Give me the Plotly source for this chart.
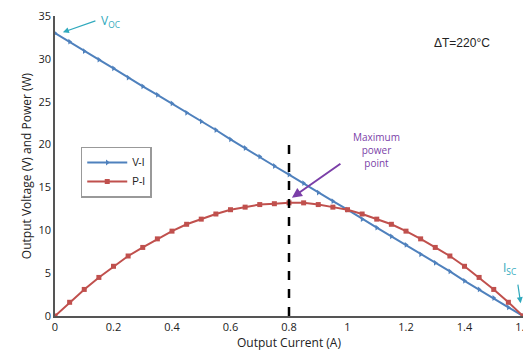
import plotly.graph_objects as go

current = [0, 0.05, 0.1, 0.15, 0.2, 0.25, 0.3, 0.35, 0.4, 0.45, 0.5, 0.55, 0.6, 0.65, 0.7, 0.75,
           0.8, 0.85, 0.9, 0.95, 1.0, 1.05, 1.1, 1.15, 1.2, 1.25, 1.3, 1.35, 1.4, 1.45, 1.5, 1.55, 1.6]
voltage = [33.0, 32.0, 30.9, 29.9, 28.9, 27.8, 26.8, 25.8, 24.8, 23.7, 22.7, 21.7, 20.6, 19.6, 18.6, 17.5,
           16.5, 15.5, 14.4, 13.4, 12.4, 11.3, 10.3, 9.3, 8.3, 7.2, 6.2, 5.2, 4.1, 3.1, 2.1, 1.0, 0.0]
power = [0.0, 1.6, 3.1, 4.5, 5.8, 7.0, 8.0, 9.0, 9.9, 10.7, 11.3, 11.9, 12.4, 12.7, 13.0, 13.1,
         13.2, 13.2, 13.0, 12.7, 12.4, 11.9, 11.3, 10.7, 9.9, 9.0, 8.0, 7.0, 5.8, 4.5, 3.1, 1.6, 0.0]
x_ticks = [0, 0.2, 0.4, 0.6, 0.8, 1.0, 1.2, 1.4, 1.6]
x_tick_labels = ["0", "0.2", "0.4", "0.6", "0.8", "1", "1.2", "1.4", "1.6"]
y_ticks = [0, 5, 10, 15, 20, 25, 30, 35]
mpp_current = 0.8
mpp_line_top = 20

blue = "#4f81bd"
red = "#c0504d"
teal = "#2fa9bd"
purple = "#7b3fa8"
font = "Open Sans"

fig = go.Figure()
fig.add_trace(go.Scatter(x=current, y=voltage, name="V-I", mode="lines+markers",
                         line=dict(color=blue, width=2),
                         marker=dict(symbol="triangle-right", size=5, color=blue)))
fig.add_trace(go.Scatter(x=current, y=power, name="P-I", mode="lines+markers",
                         line=dict(color=red, width=2),
                         marker=dict(symbol="square", size=5, color=red)))

fig.add_shape(type="line", x0=mpp_current, x1=mpp_current, y0=0, y1=mpp_line_top,
              xref="x", yref="y", line=dict(color="black", width=2.5, dash="dash"))

fig.add_annotation(x=0.027, y=33.1, xref="x", yref="y", ax=34, ay=-12, text="",
                   showarrow=True, arrowhead=2, arrowsize=1, arrowwidth=1.2, arrowcolor=teal)
fig.add_annotation(x=0.15, y=34.4, xref="x", yref="y", xanchor="left", yanchor="middle",
                   text="V<sub>OC</sub>", showarrow=False, font=dict(color=teal, size=12, family=font))

fig.add_annotation(x=0.81, y=13.8, xref="x", yref="y", ax=50, ay=-35, text="",
                   showarrow=True, arrowhead=2, arrowsize=1, arrowwidth=2, arrowcolor=purple)
fig.add_annotation(x=1.1, y=19.4, xref="x", yref="y", text="Maximum<br>power<br>point",
                   showarrow=False, font=dict(color=purple, size=10, family=font), align="center")

fig.add_annotation(x=1.592, y=1.5, xref="x", yref="y", ax=-3, ay=-20, text="",
                   showarrow=True, arrowhead=2, arrowsize=1, arrowwidth=1.2, arrowcolor=teal)
fig.add_annotation(x=1.556, y=5.6, xref="x", yref="y", text="I<sub>SC</sub>",
                   showarrow=False, font=dict(color=teal, size=12, family=font))

fig.add_annotation(x=1.39, y=31.8, xref="x", yref="y", text="ΔT=220°C",
                   showarrow=False, font=dict(color="#222", size=12, family="Liberation Sans"))

fig.update_layout(
    width=523, height=344,
    margin=dict(l=47, r=8, t=8, b=36, autoexpand=False),
    paper_bgcolor="white", plot_bgcolor="white",
    font=dict(family=font, size=11, color="#222"),
    legend=dict(x=0.055, y=0.565, xanchor="left", yanchor="top",
                bordercolor="#999", borderwidth=1.5, bgcolor="white",
                font=dict(size=10, family="Liberation Sans", color="#222"),
                tracegroupgap=4, itemwidth=40),
    showlegend=True,
)
fig.update_xaxes(range=[0, 1.6], tickvals=x_ticks, ticktext=x_tick_labels, automargin=False,
                 ticklabeloverflow="allow",
                 showgrid=False, zeroline=False, showline=True, linecolor="#555", linewidth=1.5,
                 ticks="", title=dict(text="Output Current (A)", standoff=0, font=dict(size=12)))
fig.update_yaxes(range=[0, 35], tickvals=y_ticks, showgrid=False, zeroline=False, automargin=False,
                 ticklabeloverflow="allow",
                 showline=True, linecolor="#555", linewidth=1.5, ticks="",
                 title=dict(text="Output Voltage (V) and Power (W)", standoff=4, font=dict(size=12)))

fig.write_html("out.html")
